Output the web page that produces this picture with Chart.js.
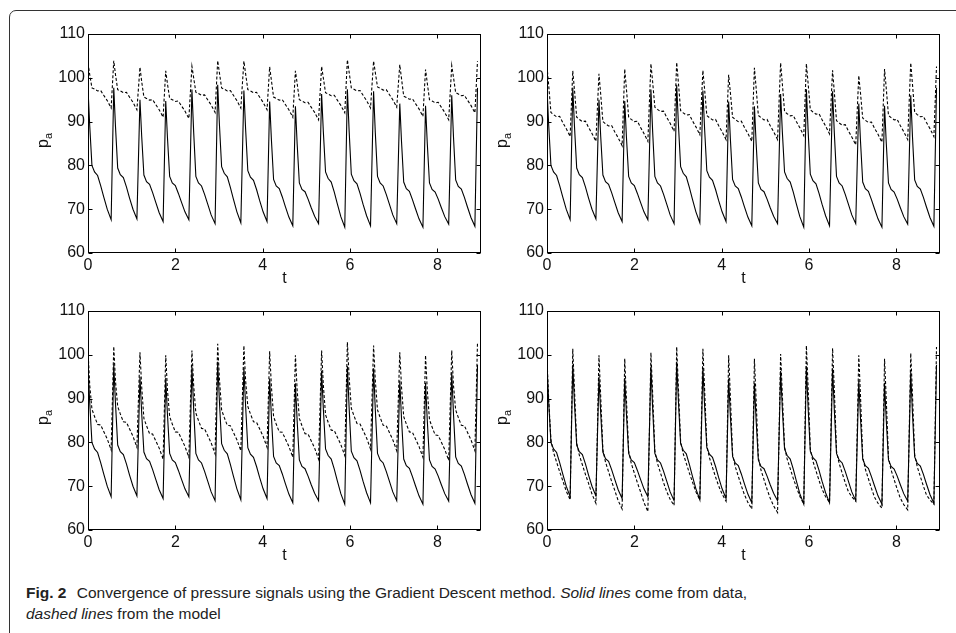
<!DOCTYPE html>
<html>
<head>
<meta charset="utf-8">
<script src="https://cdn.jsdelivr.net/npm/chart.js@4/dist/chart.umd.min.js"></script>
<style>
  body { margin: 0; background: #fff; width: 956px; height: 633px; overflow: hidden; position: relative; }
  .frame { position: absolute; left: 9px; top: 10px; width: 1000px; height: 700px; border: 1px solid #333; border-radius: 7px; }
  .panel { position: absolute; }
  .caption { position: absolute; left: 26px; top: 582px; font-family: "Liberation Sans", Arial, sans-serif; font-size: 15.5px; line-height: 21px; color: #222; white-space: nowrap; }
  .caption b { font-weight: bold; margin-right: 6px; }
</style>
</head>
<body>
<div class="frame"></div>
<canvas id="p1" class="panel" width="458" height="278" style="left:28px;top:20px"></canvas>
<canvas id="p2" class="panel" width="458" height="278" style="left:487px;top:20px"></canvas>
<canvas id="p3" class="panel" width="458" height="278" style="left:28px;top:297px"></canvas>
<canvas id="p4" class="panel" width="458" height="278" style="left:487px;top:297px"></canvas>
<div class="caption"><b>Fig. 2</b> Convergence of pressure signals using the Gradient Descent method. <i>Solid lines</i> come from data,<br><i>dashed lines</i> from the model</div>
<script>
// sample times (one heart cycle = 9 samples)
const t = [
  0.00, 0.04, 0.09, 0.15, 0.22, 0.29, 0.36, 0.44, 0.53,
  0.59, 0.63, 0.68, 0.74, 0.81, 0.88, 0.95, 1.03, 1.12,
  1.19, 1.23, 1.28, 1.34, 1.41, 1.48, 1.55, 1.63, 1.72,
  1.78, 1.82, 1.87, 1.93, 2.00, 2.07, 2.14, 2.22, 2.31,
  2.38, 2.42, 2.47, 2.53, 2.60, 2.67, 2.74, 2.82, 2.91,
  2.97, 3.01, 3.06, 3.12, 3.19, 3.26, 3.33, 3.41, 3.50,
  3.57, 3.61, 3.66, 3.72, 3.79, 3.86, 3.93, 4.01, 4.10,
  4.16, 4.20, 4.25, 4.31, 4.38, 4.45, 4.52, 4.60, 4.69,
  4.75, 4.79, 4.84, 4.90, 4.97, 5.04, 5.11, 5.19, 5.28,
  5.35, 5.39, 5.44, 5.50, 5.57, 5.64, 5.71, 5.79, 5.88,
  5.94, 5.98, 6.03, 6.09, 6.16, 6.23, 6.30, 6.38, 6.47,
  6.54, 6.58, 6.63, 6.69, 6.76, 6.83, 6.90, 6.98, 7.07,
  7.14, 7.18, 7.23, 7.29, 7.36, 7.43, 7.50, 7.58, 7.67,
  7.73, 7.77, 7.82, 7.88, 7.95, 8.02, 8.09, 8.17, 8.26,
  8.33, 8.37, 8.42, 8.48, 8.55, 8.62, 8.69, 8.77, 8.86,
  8.92
];

// measured pressure (solid line, same in every panel)
const pData = [
  97.5, 89.0, 80.0, 78.5, 77.7, 75.4, 72.8, 70.0, 67.6,
  97.7, 88.8, 79.4, 77.9, 77.2, 75.1, 72.6, 70.0, 67.8,
  95.0, 86.6, 77.8, 76.3, 75.7, 73.8, 71.6, 69.2, 67.2,
  94.7, 86.3, 77.5, 76.0, 75.4, 73.6, 71.6, 69.4, 67.6,
  97.3, 87.6, 77.5, 76.0, 75.3, 73.4, 71.2, 68.7, 66.7,
  98.4, 89.3, 79.7, 78.2, 77.4, 75.0, 72.3, 69.4, 66.9,
  97.1, 88.2, 78.8, 77.3, 76.6, 74.5, 72.0, 69.4, 67.2,
  94.6, 85.9, 76.8, 75.3, 74.7, 72.8, 70.6, 68.2, 66.2,
  93.5, 84.9, 76.0, 74.5, 74.0, 72.3, 70.4, 68.4, 66.7,
  96.3, 87.6, 78.5, 77.0, 76.2, 73.9, 71.2, 68.3, 65.9,
  97.4, 87.9, 78.0, 76.5, 75.8, 73.6, 71.1, 68.5, 66.2,
  96.9, 87.4, 77.5, 76.0, 75.3, 73.4, 71.2, 68.7, 66.7,
  94.1, 85.4, 76.2, 74.7, 74.1, 72.2, 70.1, 67.8, 65.9,
  93.6, 85.0, 76.0, 74.5, 73.9, 72.3, 70.4, 68.3, 66.6,
  96.0, 86.5, 76.7, 75.2, 74.6, 72.7, 70.5, 68.1, 66.1,
  97.7
];

// model output (dashed line), one array per panel
const pModel1 = [
  103.4, 100.7, 97.7, 97.4, 97.0, 97.1, 96.0, 94.8, 93.1,
  103.9, 100.7, 97.3, 97.0, 96.6, 96.7, 95.6, 94.4, 92.7,
  102.4, 99.1, 95.6, 95.3, 94.9, 95.0, 93.9, 92.7, 91.0,
  101.6, 98.6, 95.3, 95.0, 94.6, 94.7, 93.6, 92.4, 90.7,
  102.6, 100.0, 96.7, 96.4, 96.0, 96.1, 95.0, 93.8, 92.1,
  103.9, 101.1, 97.7, 97.4, 97.0, 97.1, 96.0, 94.8, 93.1,
  103.8, 100.9, 97.3, 97.0, 96.6, 96.7, 95.6, 94.4, 92.7,
  102.5, 99.4, 95.6, 95.3, 94.9, 95.0, 93.9, 92.7, 91.0,
  101.6, 98.7, 95.0, 94.7, 94.3, 94.4, 93.3, 92.1, 90.4,
  102.6, 99.9, 96.6, 96.3, 95.9, 96.0, 94.9, 93.7, 92.0,
  104.1, 101.3, 97.7, 97.4, 97.0, 97.1, 96.0, 94.8, 93.1,
  103.8, 101.2, 97.9, 97.6, 97.2, 97.3, 96.2, 95.0, 93.3,
  103.0, 99.8, 95.8, 95.5, 95.1, 95.2, 94.1, 92.9, 91.2,
  101.9, 98.8, 95.0, 94.7, 94.3, 94.4, 93.3, 92.1, 90.4,
  102.8, 100.1, 96.6, 96.3, 95.9, 96.0, 94.9, 93.7, 92.0,
  103.8
];

const pModel2 = [
  102.6, 98.1, 92.1, 91.6, 91.1, 91.2, 89.8, 88.4, 86.6,
  101.6, 97.1, 91.0, 90.5, 90.0, 90.1, 88.7, 87.3, 85.5,
  100.9, 96.2, 90.0, 89.5, 89.0, 89.1, 87.7, 86.3, 84.5,
  102.0, 97.3, 91.0, 90.5, 90.0, 90.1, 88.7, 87.3, 85.5,
  103.2, 99.0, 93.3, 92.8, 92.3, 92.4, 91.0, 89.6, 87.8,
  103.5, 98.8, 92.5, 92.0, 91.5, 91.6, 90.2, 88.8, 87.0,
  101.7, 97.3, 91.4, 90.9, 90.4, 90.5, 89.1, 87.7, 85.9,
  100.7, 96.6, 91.0, 90.5, 90.0, 90.1, 88.7, 87.3, 85.5,
  102.3, 97.6, 91.4, 90.9, 90.4, 90.5, 89.1, 87.7, 85.9,
  103.4, 98.6, 92.3, 91.8, 91.3, 91.4, 90.0, 88.6, 86.8,
  103.2, 98.7, 92.7, 92.2, 91.7, 91.8, 90.4, 89.0, 87.2,
  101.7, 96.7, 90.2, 89.7, 89.2, 89.3, 87.9, 86.5, 84.7,
  100.5, 96.4, 90.8, 90.3, 89.8, 89.9, 88.5, 87.1, 85.3,
  102.0, 97.5, 91.4, 90.9, 90.4, 90.5, 89.1, 87.7, 85.9,
  103.4, 98.5, 92.1, 91.6, 91.1, 91.2, 89.8, 88.4, 86.6,
  102.6
];

const pModel3 = [
  101.0, 93.0, 87.6, 85.9, 84.1, 84.0, 82.5, 80.8, 78.3,
  101.9, 93.9, 88.2, 86.5, 84.7, 84.6, 83.1, 81.4, 78.9,
  100.6, 92.6, 85.5, 83.8, 82.0, 81.9, 80.4, 78.7, 76.2,
  99.9, 91.9, 85.9, 84.2, 82.4, 82.3, 80.8, 79.1, 76.6,
  101.0, 93.0, 86.7, 85.0, 83.2, 83.1, 81.6, 79.9, 77.4,
  102.5, 94.5, 87.4, 85.7, 83.9, 83.8, 82.3, 80.6, 78.1,
  102.1, 94.1, 88.2, 86.5, 84.7, 84.6, 83.1, 81.4, 78.9,
  100.8, 92.8, 85.9, 84.2, 82.4, 82.3, 80.8, 79.1, 76.6,
  99.9, 91.9, 85.5, 83.8, 82.0, 81.9, 80.4, 78.7, 76.2,
  101.0, 93.0, 86.3, 84.6, 82.8, 82.7, 81.2, 79.5, 77.0,
  102.9, 94.9, 87.8, 86.1, 84.3, 84.2, 82.7, 81.0, 78.5,
  102.1, 94.1, 87.4, 85.7, 83.9, 83.8, 82.3, 80.6, 78.1,
  100.6, 92.6, 85.9, 84.2, 82.4, 82.3, 80.8, 79.1, 76.6,
  99.9, 91.9, 85.2, 83.5, 81.7, 81.6, 80.1, 78.4, 75.9,
  101.0, 93.0, 87.4, 85.7, 83.9, 83.8, 82.3, 80.6, 78.1,
  102.9
];

const pModel4 = [
  99.0, 89.5, 80.5, 77.7, 75.5, 73.3, 71.3, 68.9, 66.9,
  101.4, 91.9, 79.9, 77.1, 74.9, 72.7, 70.7, 68.2, 66.1,
  99.9, 90.4, 78.3, 75.5, 73.3, 71.1, 69.1, 66.7, 64.8,
  99.1, 89.6, 78.0, 75.2, 73.0, 70.8, 68.8, 66.3, 64.2,
  100.5, 91.0, 78.0, 75.2, 73.0, 70.8, 68.8, 67.0, 65.6,
  101.8, 92.3, 80.2, 77.4, 75.2, 73.0, 71.0, 68.7, 66.9,
  101.4, 91.9, 79.3, 76.5, 74.3, 72.1, 70.1, 68.2, 66.6,
  99.9, 90.4, 77.3, 74.5, 72.3, 70.1, 68.1, 66.3, 64.8,
  99.1, 89.6, 76.5, 73.7, 71.5, 69.3, 67.3, 65.5, 64.0,
  100.2, 90.7, 79.0, 76.2, 74.0, 71.8, 69.8, 67.7, 65.9,
  102.1, 92.6, 78.5, 75.7, 73.5, 71.3, 69.3, 67.6, 66.3,
  101.5, 92.0, 78.0, 75.2, 73.0, 70.8, 68.8, 67.6, 66.6,
  99.9, 90.4, 76.7, 73.9, 71.7, 69.5, 67.5, 66.1, 65.0,
  99.1, 89.6, 76.5, 73.7, 71.5, 69.3, 67.3, 65.8, 64.6,
  100.4, 90.9, 77.2, 74.4, 72.2, 70.0, 68.0, 66.9, 65.9,
  101.8
];

const xTicks = { min: 0, max: 9, step: 2 };
const yTicks = { min: 60, max: 110, step: 10 };

const axisFont = { family: '"Liberation Sans", Arial, sans-serif', size: 16 };
const inkColor = '#111';

// matlab style box with inward ticks and the p_a label
const boxPlugin = {
    id: 'matlabBox',
    afterDatasetsDraw(chart) {
        const { ctx, chartArea: a, scales } = chart;
        const L = Math.round(a.left) + 0.5, R = Math.round(a.right) - 0.5;
        const T = Math.round(a.top) + 0.5, B = Math.round(a.bottom) - 0.5;
        ctx.save();
        ctx.strokeStyle = '#000';
        ctx.lineWidth = 1;
        ctx.strokeRect(L, T, R - L, B - T);
        ctx.beginPath();
        scales.x.ticks.forEach(tk => {
            const px = Math.round(scales.x.getPixelForValue(tk.value)) + 0.5;
            ctx.moveTo(px, B); ctx.lineTo(px, B - 4);
            ctx.moveTo(px, T); ctx.lineTo(px, T + 4);
        });
        scales.y.ticks.forEach(tk => {
            const py = Math.round(scales.y.getPixelForValue(tk.value)) + 0.5;
            ctx.moveTo(L, py); ctx.lineTo(L + 4, py);
            ctx.moveTo(R, py); ctx.lineTo(R - 4, py);
        });
        ctx.stroke();

        // y axis title "p" with subscript "a"
        ctx.translate(a.left - 42, (a.top + a.bottom) / 2 - 3);
        ctx.rotate(-Math.PI / 2);
        ctx.fillStyle = inkColor;
        ctx.textBaseline = 'alphabetic';
        ctx.font = '16px "Liberation Sans", Arial, sans-serif';
        const wp = ctx.measureText('p').width;
        ctx.font = '11px "Liberation Sans", Arial, sans-serif';
        const wa = ctx.measureText('a').width;
        const x0 = -(wp + wa) / 2;
        ctx.font = '16px "Liberation Sans", Arial, sans-serif';
        ctx.fillText('p', x0, 2);
        ctx.font = '11px "Liberation Sans", Arial, sans-serif';
        ctx.fillText('a', x0 + wp, 6);
        ctx.restore();
    }
};

function toPoints(values) {
    return t.map((tv, i) => ({ x: tv, y: values[i] }));
}

function createPanel(id, model) {
    const ctx = document.getElementById(id).getContext('2d');
    return new Chart(ctx, {
        type: 'line',
        data: {
            datasets: [
                {
                    label: 'data',
                    data: toPoints(pData),
                    borderColor: '#000',
                    borderWidth: 1.1,
                    pointRadius: 0,
                    tension: 0
                },
                {
                    label: 'model',
                    data: toPoints(model),
                    borderColor: '#000',
                    borderWidth: 1.1,
                    borderDash: [3, 2],
                    pointRadius: 0,
                    tension: 0
                }
            ]
        },
        options: {
            responsive: false,
            animation: false,
            events: [],
            layout: { padding: { top: 14, right: 5, left: 0, bottom: 0 } },
            plugins: { legend: { display: false }, tooltip: { enabled: false } },
            scales: {
                x: {
                    type: 'linear',
                    min: xTicks.min,
                    max: xTicks.max,
                    afterFit(scale) { scale.height = 45; },
                    grid: { display: false, drawTicks: false },
                    border: { display: false },
                    ticks: { stepSize: xTicks.step, includeBounds: false, padding: 3, maxRotation: 0, font: axisFont, color: inkColor },
                    title: { display: true, text: 't', padding: { top: 0, bottom: 10 }, font: axisFont, color: inkColor }
                },
                y: {
                    type: 'linear',
                    min: yTicks.min,
                    max: yTicks.max,
                    afterFit(scale) { scale.width = 60; },
                    grid: { display: false, drawTicks: false },
                    border: { display: false },
                    ticks: { stepSize: yTicks.step, padding: 3, font: axisFont, color: inkColor }
                }
            }
        },
        plugins: [boxPlugin]
    });
}

createPanel('p1', pModel1);
createPanel('p2', pModel2);
createPanel('p3', pModel3);
createPanel('p4', pModel4);
</script>
</body>
</html>
